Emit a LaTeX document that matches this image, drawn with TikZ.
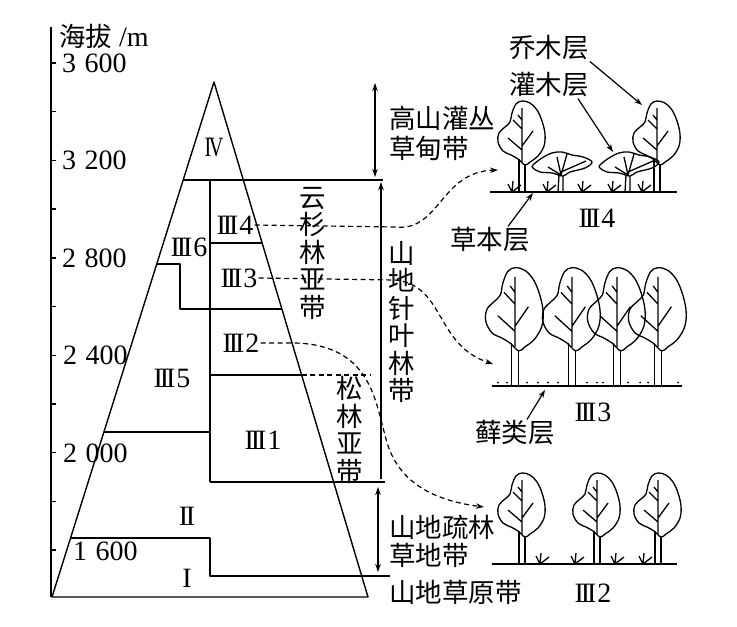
\documentclass[tikz,border=0pt]{standalone}
\usepackage{fontspec}
\setmainfont{Liberation Serif}
\newfontfamily\cjk{Noto Sans CJK SC}
\usetikzlibrary{arrows.meta,calc}
\newcommand\RI{I}
\newcommand\RII{I\kern-0.08em I}
\newcommand\RIII{I\kern-0.11em I\kern-0.11em I}
\newcommand\RIV{\scalebox{0.72}[1]{I\kern-0.12em V}}
\begin{document}
\begin{tikzpicture}[x=1pt,y=-1pt,line join=round,
  ln/.style={line width=1.4pt},
  tl/.style={line width=1.3pt},
  dsh/.style={line width=1.2pt,dash pattern=on 5pt off 3.5pt,-{Stealth[length=8pt,width=5.5pt]}},
  dshline/.style={line width=1.2pt,dash pattern=on 5pt off 3.5pt},
  dbl/.style={line width=1.2pt,{Stealth[length=8pt,width=5.5pt]}-{Stealth[length=8pt,width=5.5pt]}},
  uparr/.style={line width=1.2pt,{Stealth[length=8pt,width=5.5pt]}-},
  ptr/.style={line width=1.2pt,-{Stealth[length=8pt,width=5.5pt]}},
  lbl/.style={font=\fontsize{28}{30}\selectfont,inner sep=1pt},
  cjkt/.style={font=\cjk\fontsize{26.5}{28}\selectfont,inner sep=1pt},
  vert/.style={font=\cjk\fontsize{26.5}{27.5}\selectfont,align=center,inner sep=0pt},
  tree/.pic={
    \draw[tl] plot[smooth cycle,tension=0.6] coordinates {(0,-91) (8,-89) (15,-82) (20,-71) (23,-58) (22,-46) (16,-36) (8,-30) (3,-27) (-4,-33) (-11,-37) (-19,-41) (-24,-50) (-23,-59) (-17,-65) (-12,-70) (-10,-79) (-6,-88)};
    \draw[tl] (-3,0) -- (-3,-33) (3,0) -- (3,-27);
    \draw[tl] (0,-30) -- (0,-84) (0,-42) -- (-14,-54) (0,-46) -- (11,-61) (0,-63) -- (-9,-72) (0,-72) -- (-4,-77);
  },
  shrub/.pic={
    \draw[tl] plot[smooth cycle,tension=0.6] coordinates {(-27,-27) (-18,-34) (-8,-39) (2,-40) (12,-37) (23,-35) (32,-30) (25,-24) (10,-20) (3,-16) (-8,-19) (-20,-20) (-27,-24)};
    \draw[tl] (-2,0) -- (-1,-17) (3,0) -- (3,-16);
    \draw[tl] (1,-17) -- (-12,-25) (1,-17) -- (-3,-35) (1,-17) -- (7,-38) (1,-20) -- (26,-31);
  },
  tuft/.pic={
    \draw[tl] (-4,-8) -- (0,0) -- (1,-11) (0,0) -- (9,-7);
  }
]
\useasboundingbox (0,0) rectangle (737,627);
\fill[white] (0,0) rectangle (737,627);

% axis
\coordinate (axtop) at (51,27);
\coordinate (axbot) at (51,597);
\draw[ln] (axtop) -- (axbot);
\foreach \k in {0,...,10}{
  \draw[ln] (51,63+\k*48.7) -- (56,63+\k*48.7);
}
\node[anchor=west,lbl] (unit) at (58,36) {{\cjk\fontsize{26.5}{28}\selectfont 海拔} /m};
\node[anchor=west,lbl] (h3600) at (61,63) {3\hspace{0.3em}600};
\node[anchor=west,lbl] (h3200) at (61,160) {3\hspace{0.3em}200};
\node[anchor=west,lbl] (h2800) at (61,258) {2\hspace{0.3em}800};
\node[anchor=west,lbl] (h2400) at (62,355) {2\hspace{0.3em}400};
\node[anchor=west,lbl] (h2000) at (62,453) {2\hspace{0.3em}000};
\node[anchor=west,lbl] (h1600) at (72,551) {1\hspace{0.3em}600};

% mountain
\coordinate (apex) at (214,82);
\coordinate (bl) at (52,597);
\coordinate (br) at (368,597);
\draw[ln] (apex) -- (bl) -- (br) -- cycle;
\draw[ln] (183.2,180) -- (383,180);
\draw[ln] (210,180) -- (210,482);
\draw[ln] (210,243) -- (262.1,243);
\draw[ln] (156.8,264) -- (180,264) -- (180,309) -- (281.9,309);
\draw[ln] (210,375) -- (301.6,375);
\draw[dshline] (301.6,375) -- (370,375);
\draw[ln] (103.9,432) -- (210,432);
\draw[ln] (210,482) -- (385,482);
\draw[ln] (70.6,538) -- (210,538) -- (210,576) -- (390,576);

% zone labels
\node[lbl] (z4) at (214,148) {\RIV};
\node[lbl] (z36) at (189,247) {\RIII\kern1pt 6};
\node[lbl] (z34) at (235,225) {\RIII\kern1pt 4};
\node[lbl] (z33) at (239,278) {\RIII\kern1pt 3};
\node[lbl] (z32) at (241,343) {\RIII\kern1pt 2};
\node[lbl] (z35) at (172,378) {\RIII\kern1pt 5};
\node[lbl] (z31) at (263,440) {\RIII\kern1pt 1};
\node[lbl] (z2) at (187,516) {\RII};
\node[lbl] (z1) at (187,578) {\RI};

% vertical labels
\node[vert] (yunshan) at (313,253) {云\\杉\\林\\亚\\带};
\node[vert] (songlin) at (350,430) {松\\林\\亚\\带};
\node[vert] (zhenye) at (402,322) {山\\地\\针\\叶\\林\\带};

% brackets
\coordinate (b1t) at (375,83);
\coordinate (b1b) at (375,177);
\draw[dbl] (b1t) -- (b1b);
\coordinate (b2t) at (381,182);
\coordinate (b2b) at (381,479);
\draw[uparr] (b2t) -- (b2b);
\coordinate (b3t) at (378,487);
\coordinate (b3b) at (378,572);
\draw[dbl] (b3t) -- (b3b);

\node[cjkt,anchor=west,align=left,font=\cjk\fontsize{26.5}{30}\selectfont] (gaoshan) at (388,133) {高山灌丛\\草甸带};
\node[cjkt,anchor=west,align=left] (shulin) at (388,541) {山地疏林\\草地带};
\node[cjkt,anchor=west] (caoyuan) at (388,592) {山地草原带};

% panel III4
\draw[ln] (490,192) -- (677,192);
\pic at (522,192) {tree};
\pic at (560,192) {shrub};
\pic at (627,192) {shrub};
\pic at (657,192) {tree};
\foreach \t in {512,547,582,612,642}{ \pic at (\t,192) {tuft}; }
\node[lbl] (p34) at (597,218) {\RIII\kern1pt 4};
\node[cjkt] (qiao) at (549,48) {乔木层};
\node[cjkt] (guan) at (549,85) {灌木层};
\node[cjkt] (caoben) at (490,240) {草本层};
\coordinate (tq) at (642,105);
\coordinate (tg) at (613,152);
\coordinate (tc) at (533,193);
\draw[ptr] (qiao.south east) -- (tq);
\draw[ptr] ([xshift=-12pt]guan.south east) -- (tg);
\draw[ptr] ([xshift=18pt]caoben.north) -- (tc);

% panel III3
\draw[ln] (492,386) -- (682,386);
\foreach \t in {515,572,617,658}{ \pic[xscale=1.22,yscale=1.3] at (\t,386) {tree}; }
\foreach \d in {498,507,527,538,548,558,587,597,603,628,640,648,678}{ \fill (\d,382.5) circle (1pt); }
\node[lbl] (p33) at (593,412) {\RIII\kern1pt 3};
\node[cjkt] (xian) at (515,433) {藓类层};
\coordinate (tx) at (545,390);
\draw[ptr] ([xshift=12pt]xian.north) -- (tx);

% panel III2
\draw[ln] (492,564) -- (677,564);
\foreach \t in {522,597,658}{ \pic at (\t,564) {tree}; }
\foreach \t in {540,575,615,643}{ \pic at (\t,564) {tuft}; }
\node[lbl] (p32) at (593,593) {\RIII\kern1pt 2};

% dashed connectors
\coordinate (e4) at (498,170);
\coordinate (e3) at (493,364);
\coordinate (e2) at (484,507);
\draw[dsh] (z34.east) -- (395,227) .. controls (440,232) and (440,172) .. (e4);
\draw[dsh] (z33.east) -- (395,280) .. controls (445,285) and (435,345) .. (e3);
\draw[dsh] (z32.east) -- (295,343) .. controls (370,345) and (375,400) .. (385,435) .. controls (395,480) and (430,500) .. (e2);
\end{tikzpicture}
\end{document}
